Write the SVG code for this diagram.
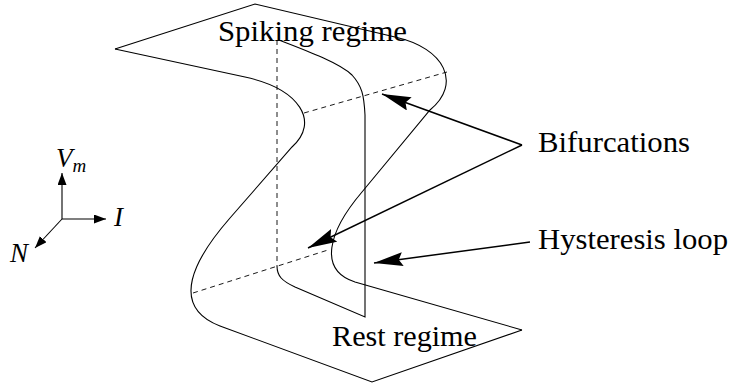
<svg xmlns="http://www.w3.org/2000/svg" width="733" height="385" viewBox="0 0 733 385">
  <style>
    .edge { fill: none; stroke: #000; stroke-width: 1.1; }
    .hidden { fill: none; stroke: #000; stroke-width: 0.9; stroke-dasharray: 5 4; }
    .callout { fill: none; stroke: #000; stroke-width: 1.5; marker-end: url(#bigHead); }
    .axis { fill: none; stroke: #000; stroke-width: 1.1; marker-end: url(#smallHead); }
    .lbl { font-family: "Liberation Serif", "Times New Roman", serif; font-size: 29px; fill: #000; }
    .var { font-family: "Liberation Serif", "Times New Roman", serif; font-style: italic; font-size: 27px; fill: #000; }
  </style>
  <defs>
    <marker id="bigHead" markerUnits="userSpaceOnUse" markerWidth="32" markerHeight="16" refX="29" refY="7" orient="auto">
      <path d="M0,0 L29,7 L0,14 L4,7 Z" fill="#000"/>
    </marker>
    <marker id="smallHead" markerUnits="userSpaceOnUse" markerWidth="14" markerHeight="10" refX="12" refY="4.5" orient="auto">
      <path d="M0,0 L12,4.5 L0,9 Z" fill="#000"/>
    </marker>
  </defs>

  <rect width="733" height="385" fill="#fff"/>

  <!-- folded surface -->
  <g id="surface">
    <!-- front fold edge: top sheet rim, descending branch, bottom sheet rim -->
    <path class="edge" d="M115,49 L245,77 C300,89 320,122 292,147 L230,218 C195,258 168,306 220,326 L372,382 L522,330"/>
    <!-- back fold edge -->
    <path class="edge" d="M522,330 L355,282 C318,270 328,232 362,192 L430,110 C462,84 445,48 395,37 L255,4 L115,49"/>
    <!-- hidden fold lines -->
    <path class="hidden" d="M304,113 L447,72"/>
    <path class="hidden" d="M193,293 L328,250"/>
  </g>

  <!-- constant-N cross section -->
  <g id="section">
    <path class="hidden" d="M277,40 L277,266"/>
    <path class="edge" d="M277,266 C277,276 282,281 295,287 L365,317 L365,115 C364,95 362,86 352,75 C340,63 305,50 279,40"/>
  </g>

  <!-- labels -->
  <g id="spiking"><text class="lbl" x="218" y="41" textLength="189" lengthAdjust="spacingAndGlyphs">Spiking regime</text></g>
  <g id="rest"><text class="lbl" x="332" y="346" textLength="145" lengthAdjust="spacingAndGlyphs">Rest regime</text></g>
  <g id="bifurcations"><text class="lbl" x="538" y="152" textLength="152" lengthAdjust="spacingAndGlyphs">Bifurcations</text></g>
  <g id="hysteresis"><text class="lbl" x="538" y="249" textLength="190" lengthAdjust="spacingAndGlyphs">Hysteresis loop</text></g>

  <!-- pointers -->
  <g id="connectors">
    <line class="callout" x1="522" y1="145" x2="382" y2="94"/>
    <line class="callout" x1="522" y1="145" x2="308" y2="248"/>
    <line class="callout" x1="530" y1="242" x2="374" y2="263"/>
  </g>

  <!-- axes -->
  <g id="axes">
    <line class="axis" x1="62" y1="219" x2="62" y2="173"/>
    <line class="axis" x1="62" y1="219" x2="106" y2="219"/>
    <line class="axis" x1="62" y1="219" x2="35" y2="248"/>
    <text class="var" x="56" y="167">V<tspan font-size="19" dy="5">m</tspan></text>
    <text class="var" x="114" y="226">I</text>
    <text class="var" x="10" y="262">N</text>
  </g>
</svg>
